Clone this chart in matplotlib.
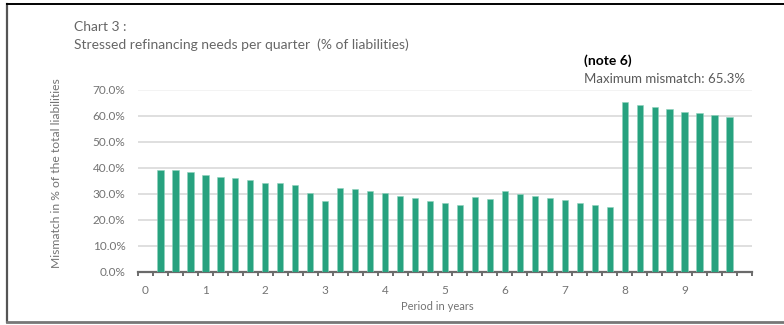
import matplotlib

matplotlib.use("Agg")
import matplotlib.pyplot as plt
from matplotlib.lines import Line2D
from matplotlib.ticker import FixedLocator, FuncFormatter

# quarter index (1 = first quarter) and stressed mismatch in % of liabilities
quarters = list(range(1, 40))
mismatch = [
    39.4, 39.4, 38.4, 37.4, 36.5, 36.3, 35.4, 34.4, 34.2, 33.4,
    30.3, 27.5, 32.3, 32.1, 31.1, 30.2, 29.3, 28.4, 27.5, 26.6,
    25.6, 28.8, 28.0, 31.1, 30.1, 29.2, 28.4, 27.6, 26.7, 25.8,
    24.9, 65.3, 64.3, 63.5, 62.6, 61.7, 61.3, 60.5, 59.6,
]
year_labels = [str(y) for y in range(10)]

GREEN = "#27a27f"
GREY_TXT = "#737373"
plt.rcParams["font.family"] = ["Lato", "DejaVu Sans"]

fig = plt.figure(figsize=(7.84, 3.25), dpi=100)
W, H = 784, 325
ax = fig.add_axes([138 / W, 1 - 272 / H, (752 - 138) / W, (272 - 90) / H])

ax.bar(quarters, mismatch, width=0.42, color=GREEN, edgecolor="#8fd3bd",
       linewidth=0.4, zorder=3)

ax.set_xlim(-0.5, 40.5)
ax.set_ylim(0, 70)
ax.set_yticks(range(0, 71, 10))
ax.yaxis.set_major_formatter(FuncFormatter(lambda v, _: f"{v:.1f}%"))
ax.set_xticks(range(0, 40, 4))
ax.set_xticklabels(year_labels)
ax.xaxis.set_minor_locator(FixedLocator([k + 0.5 for k in range(-1, 41)]))
ax.tick_params(axis="x", which="major", length=0, pad=9, labelsize=8.5,
               labelcolor=GREY_TXT)
ax.tick_params(axis="x", which="minor", length=3, width=1.2, color="#555555",
               direction="out")
ax.tick_params(axis="y", length=0, pad=9, labelsize=8.5, labelcolor=GREY_TXT)

for v in range(10, 71, 10):
    ax.axhline(v, color="#f0f0f0" if v == 70 else "#d6d6d6", lw=1.1, zorder=1)
for side in ("left", "right", "top"):
    ax.spines[side].set_visible(False)
ax.spines["bottom"].set_color("#6a6a6a")
ax.spines["bottom"].set_linewidth(1.6)

fig.text(437 / W, 1 - 307 / H, "Period in years", ha="center", va="center",
         fontsize=8, color=GREY_TXT)
fig.text(57 / W, 1 - 173 / H, "Mismatch in % of the total liabilities",
         rotation=90, ha="center", va="center", fontsize=8.7, color=GREY_TXT)

fig.text(74 / W, 1 - 27 / H, "Chart 3 :", fontsize=10, color="#666666",
         va="center")
fig.text(74 / W, 1 - 45 / H,
         "Stressed refinancing needs per quarter  (% of liabilities)",
         fontsize=10, color="#666666", va="center")
fig.text(584 / W, 1 - 61 / H, "(note 6)", fontsize=10, color="black",
         va="center", fontweight="bold")
fig.text(584 / W, 1 - 79 / H, "Maximum mismatch: 65.3%", fontsize=9.5,
         color="#5a5a5a", va="center")

# frame around the chart
fig.add_artist(Line2D([7 / W, 7 / W], [1 - 4 / H, 1 - 322 / H],
                      transform=fig.transFigure, color="#555555", lw=1.6))
fig.add_artist(Line2D([7 / W, 1], [1 - 4 / H, 1 - 4 / H],
                      transform=fig.transFigure, color="black", lw=1.4))
fig.add_artist(Line2D([7 / W, 1], [1 - 322 / H, 1 - 322 / H],
                      transform=fig.transFigure, color="#777777", lw=2))

fig.savefig("out.png", dpi=100)
